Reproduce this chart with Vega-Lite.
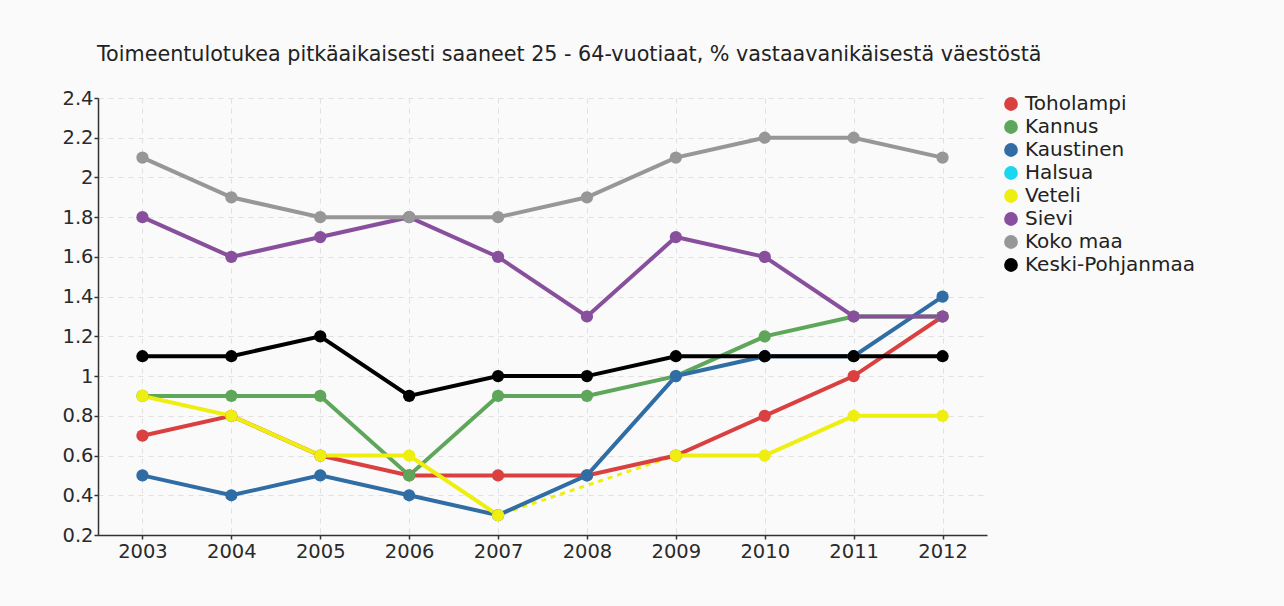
{
  "$schema": "https://vega.github.io/schema/vega-lite/v6.json",
  "width": 889,
  "height": 437,
  "autosize": {"type": "none"},
  "padding": {"left": 98, "top": 98, "right": 297, "bottom": 71},
  "background": "#fafafa",
  "title": {
    "text": "Toimeentulotukea pitkäaikaisesti saaneet 25 - 64-vuotiaat, % vastaavanikäisestä väestöstä",
    "anchor": "start",
    "frame": "group",
    "font": "DejaVu Sans",
    "fontSize": 20.7,
    "fontWeight": "normal",
    "color": "#222222",
    "offset": 22,
    "dx": -1
  },
  "config": {
    "view": {"stroke": null},
    "font": "DejaVu Sans",
    "axis": {
      "labelFont": "DejaVu Sans",
      "labelFontSize": 19.5,
      "labelColor": "#2a2a2a",
      "domainColor": "#333333",
      "domainWidth": 1.5,
      "tickColor": "#333333",
      "tickWidth": 1.5,
      "tickSize": 4,
      "gridColor": "#e0e0e0",
      "gridDash": [5, 5],
      "gridWidth": 1,
      "title": null
    },
    "legend": {
      "labelFont": "DejaVu Sans",
      "labelFontSize": 20,
      "labelColor": "#222222",
      "labelLimit": 400
    }
  },
  "data": {
    "values": [
      {"series": "Toholampi", "year": "2003", "value": 0.7},
      {"series": "Toholampi", "year": "2004", "value": 0.8},
      {"series": "Toholampi", "year": "2005", "value": 0.6},
      {"series": "Toholampi", "year": "2006", "value": 0.5},
      {"series": "Toholampi", "year": "2007", "value": 0.5},
      {"series": "Toholampi", "year": "2008", "value": 0.5},
      {"series": "Toholampi", "year": "2009", "value": 0.6},
      {"series": "Toholampi", "year": "2010", "value": 0.8},
      {"series": "Toholampi", "year": "2011", "value": 1.0},
      {"series": "Toholampi", "year": "2012", "value": 1.3},
      {"series": "Kannus", "year": "2003", "value": 0.9},
      {"series": "Kannus", "year": "2004", "value": 0.9},
      {"series": "Kannus", "year": "2005", "value": 0.9},
      {"series": "Kannus", "year": "2006", "value": 0.5},
      {"series": "Kannus", "year": "2007", "value": 0.9},
      {"series": "Kannus", "year": "2008", "value": 0.9},
      {"series": "Kannus", "year": "2009", "value": 1.0},
      {"series": "Kannus", "year": "2010", "value": 1.2},
      {"series": "Kannus", "year": "2011", "value": 1.3},
      {"series": "Kannus", "year": "2012", "value": 1.3},
      {"series": "Kaustinen", "year": "2003", "value": 0.5},
      {"series": "Kaustinen", "year": "2004", "value": 0.4},
      {"series": "Kaustinen", "year": "2005", "value": 0.5},
      {"series": "Kaustinen", "year": "2006", "value": 0.4},
      {"series": "Kaustinen", "year": "2007", "value": 0.3},
      {"series": "Kaustinen", "year": "2008", "value": 0.5},
      {"series": "Kaustinen", "year": "2009", "value": 1.0},
      {"series": "Kaustinen", "year": "2010", "value": 1.1},
      {"series": "Kaustinen", "year": "2011", "value": 1.1},
      {"series": "Kaustinen", "year": "2012", "value": 1.4},
      {"series": "Veteli", "year": "2003", "value": 0.9},
      {"series": "Veteli", "year": "2004", "value": 0.8},
      {"series": "Veteli", "year": "2005", "value": 0.6},
      {"series": "Veteli", "year": "2006", "value": 0.6},
      {"series": "Veteli", "year": "2007", "value": 0.3},
      {"series": "Veteli", "year": "2008", "value": null},
      {"series": "Veteli", "year": "2009", "value": 0.6},
      {"series": "Veteli", "year": "2010", "value": 0.6},
      {"series": "Veteli", "year": "2011", "value": 0.8},
      {"series": "Veteli", "year": "2012", "value": 0.8},
      {"series": "Sievi", "year": "2003", "value": 1.8},
      {"series": "Sievi", "year": "2004", "value": 1.6},
      {"series": "Sievi", "year": "2005", "value": 1.7},
      {"series": "Sievi", "year": "2006", "value": 1.8},
      {"series": "Sievi", "year": "2007", "value": 1.6},
      {"series": "Sievi", "year": "2008", "value": 1.3},
      {"series": "Sievi", "year": "2009", "value": 1.7},
      {"series": "Sievi", "year": "2010", "value": 1.6},
      {"series": "Sievi", "year": "2011", "value": 1.3},
      {"series": "Sievi", "year": "2012", "value": 1.3},
      {"series": "Koko maa", "year": "2003", "value": 2.1},
      {"series": "Koko maa", "year": "2004", "value": 1.9},
      {"series": "Koko maa", "year": "2005", "value": 1.8},
      {"series": "Koko maa", "year": "2006", "value": 1.8},
      {"series": "Koko maa", "year": "2007", "value": 1.8},
      {"series": "Koko maa", "year": "2008", "value": 1.9},
      {"series": "Koko maa", "year": "2009", "value": 2.1},
      {"series": "Koko maa", "year": "2010", "value": 2.2},
      {"series": "Koko maa", "year": "2011", "value": 2.2},
      {"series": "Koko maa", "year": "2012", "value": 2.1},
      {"series": "Keski-Pohjanmaa", "year": "2003", "value": 1.1},
      {"series": "Keski-Pohjanmaa", "year": "2004", "value": 1.1},
      {"series": "Keski-Pohjanmaa", "year": "2005", "value": 1.2},
      {"series": "Keski-Pohjanmaa", "year": "2006", "value": 0.9},
      {"series": "Keski-Pohjanmaa", "year": "2007", "value": 1.0},
      {"series": "Keski-Pohjanmaa", "year": "2008", "value": 1.0},
      {"series": "Keski-Pohjanmaa", "year": "2009", "value": 1.1},
      {"series": "Keski-Pohjanmaa", "year": "2010", "value": 1.1},
      {"series": "Keski-Pohjanmaa", "year": "2011", "value": 1.1},
      {"series": "Keski-Pohjanmaa", "year": "2012", "value": 1.1}
    ]
  },
  "encoding": {
    "x": {
      "field": "year",
      "type": "ordinal",
      "scale": {"type": "point", "padding": 0.5},
      "axis": {"labelAngle": 0, "grid": true, "labelPadding": 3}
    },
    "y": {
      "field": "value",
      "type": "quantitative",
      "scale": {"domain": [0.2, 2.4], "nice": false, "zero": false},
      "axis": {
        "values": [0.2, 0.4, 0.6, 0.8, 1, 1.2, 1.4, 1.6, 1.8, 2, 2.2, 2.4],
        "format": "~g",
        "grid": true,
        "labelPadding": 1
      }
    },
    "color": {
      "field": "series",
      "type": "nominal",
      "scale": {
        "domain": ["Toholampi", "Kannus", "Kaustinen", "Halsua", "Veteli", "Sievi", "Koko maa", "Keski-Pohjanmaa"],
        "range": ["#d9403f", "#5ea659", "#2f6da4", "#18d7ef", "#eeee10", "#884f9c", "#979797", "#000000"]
      },
      "legend": {
        "title": null,
        "orient": "none",
        "legendX": 903,
        "legendY": -4,
        "symbolType": "circle",
        "symbolSize": 190,
        "symbolStrokeWidth": 0,
        "symbolOpacity": 1,
        "rowPadding": 3,
        "labelOffset": 4
      }
    }
  },
  "layer": [
    {
      "transform": [{"filter": "datum.series === 'Veteli' && datum.value != null"}],
      "mark": {"type": "line", "strokeWidth": 3, "strokeDash": [5, 5]}
    },
    {
      "mark": {"type": "line", "strokeWidth": 4, "invalid": "break-paths-show-domains"}
    },
    {
      "mark": {"type": "point", "filled": true, "size": 150, "opacity": 1}
    }
  ]
}
